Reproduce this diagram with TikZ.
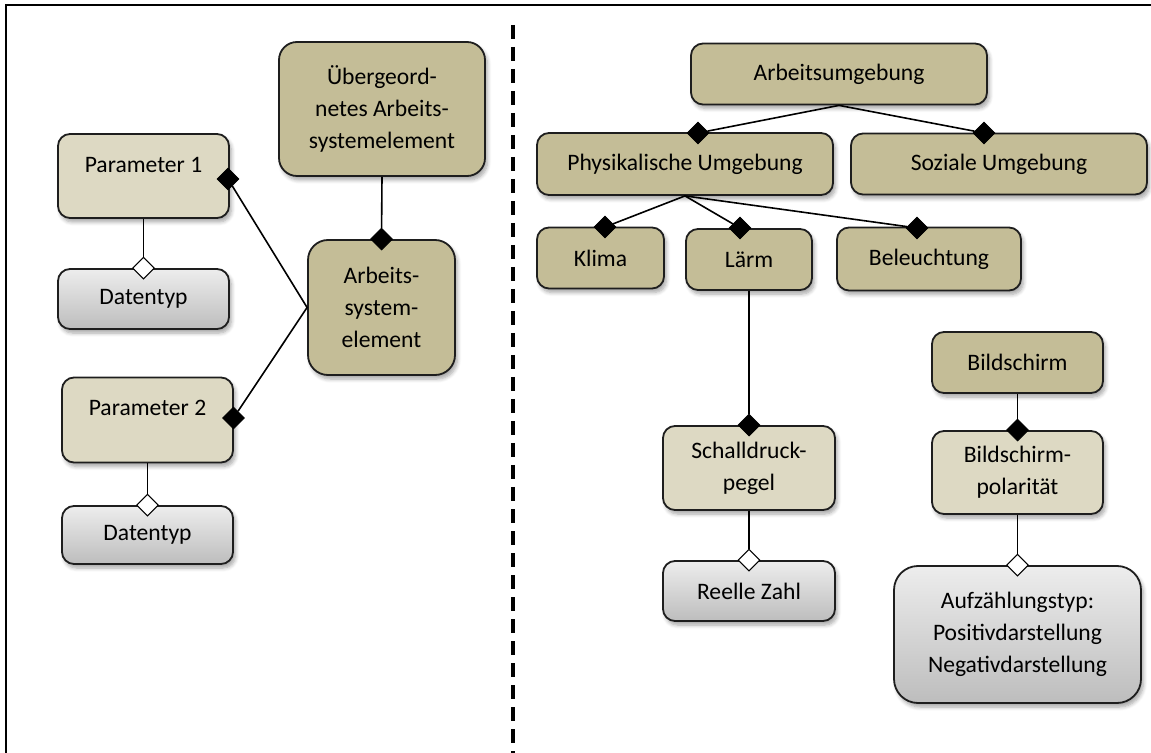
\documentclass[tikz,border=0pt]{standalone}
\usepackage{fontspec}
\setmainfont{Carlito}
\usetikzlibrary{shapes.geometric,shadows.blur}
\definecolor{tandark}{HTML}{C4BD97}
\definecolor{tanlight}{HTML}{DDD9C3}
\definecolor{edgecol}{HTML}{1E1E1E}
\definecolor{greytop}{HTML}{EDEDED}
\definecolor{greybot}{HTML}{BDBDBD}
\tikzset{
  box/.style={draw=edgecol, line width=0.9pt, rounded corners=6pt, inner sep=0pt,
    align=center, font=\fontsize{11.8}{16}\selectfont,
    blur shadow={shadow xshift=1.2pt, shadow yshift=-2pt, shadow blur steps=6, shadow opacity=35}},
  darkbox/.style={box, fill=tandark},
  lightbox/.style={box, fill=tanlight},
  typebox/.style={box, top color=greytop, bottom color=greybot},
  lbl/.style={inner sep=0pt, font=\fontsize{11.8}{16}\selectfont},
  link/.style={draw=black, line width=0.8pt},
  fdia/.style={diamond, fill=black, draw=black, line width=0.4pt, inner sep=0pt,
    minimum width=11pt, minimum height=11pt},
  odia/.style={diamond, fill=white, draw=black, line width=0.5pt, inner sep=0pt,
    minimum width=11pt, minimum height=11pt},
}
\begin{document}
\begin{tikzpicture}[x=0.5pt, y=-0.5pt]
\useasboundingbox (0,0) rectangle (1151,753);

% frame and separator
\draw[line width=1pt] (5.5,753) -- (5.5,5.5) -- (1151,5.5);
\draw[line width=2pt, dash pattern=on 7pt off 4pt] (513,25) -- (513,753);

% ---- left part: generic scheme ----
\node[darkbox, rounded corners=9pt, minimum width=103pt, minimum height=67pt] (ueb) at (382,109)
  {Übergeord-\\netes Arbeits-\\systemelement};
\node[darkbox, rounded corners=10pt, minimum width=73.5pt, minimum height=67.5pt] (ase) at (381.5,307.5)
  {Arbeits-\\system-\\element};
\node[lightbox, minimum width=85.5pt, minimum height=42pt] (p1) at (143.5,176) {};
\node[lbl] (p1t) at (143.5,165) {Parameter 1};
\node[typebox, minimum width=85.5pt, minimum height=30pt] (dt1) at (143.5,299) {Datentyp};
\node[lightbox, minimum width=85.5pt, minimum height=42.5pt] (p2) at (147.5,420) {};
\node[lbl] (p2t) at (147.5,408) {Parameter 2};
\node[typebox, minimum width=85.5pt, minimum height=29pt] (dt2) at (147.5,535) {Datentyp};

% ---- right part: example ----
\node[darkbox, minimum width=148pt, minimum height=30.5pt] (au) at (839,74) {Arbeitsumgebung};
\node[darkbox, minimum width=148pt, minimum height=31pt] (pu) at (685,164) {Physikalische Umgebung};
\node[darkbox, minimum width=148pt, minimum height=30.5pt] (su) at (999,164) {Soziale Umgebung};
\node[darkbox, minimum width=63.5pt, minimum height=30.5pt] (kl) at (600.5,258) {Klima};
\node[darkbox, minimum width=63pt, minimum height=30.5pt] (lm) at (749,259.5) {Lärm};
\node[darkbox, minimum width=92pt, minimum height=31.5pt] (bl) at (929,259) {Beleuchtung};
\node[lightbox, minimum width=86pt, minimum height=42pt] (sd) at (749,468) {Schalldruck-\\pegel};
\node[typebox, minimum width=86pt, minimum height=30pt] (rz) at (749,591) {Reelle Zahl};
\node[darkbox, minimum width=85.5pt, minimum height=30.5pt] (bs) at (1017.5,362.5) {Bildschirm};
\node[lightbox, minimum width=85.5pt, minimum height=41.5pt] (bp) at (1017.5,472.5) {Bildschirm-\\polarität};
\node[typebox, rounded corners=12pt, minimum width=123.5pt, minimum height=68.5pt] (az) at (1017.5,634.5)
  {Aufzählungstyp:\\Positivdarstellung\\Negativdarstellung};

% ---- composition markers ----
\node[fdia] (dase) at (ase.north) {};
\node[fdia] (dp1) at (228,179) {};
\node[fdia] (dp2) at (233.5,418) {};
\node[odia] (odt1) at (dt1.north) {};
\node[odia] (odt2) at (dt2.north) {};
\node[fdia] (dpu) at (698,133) {};
\node[fdia] (dsu) at (984,133) {};
\node[fdia] (dkl) at (605,227) {};
\node[fdia] (dlm) at (740,228) {};
\node[fdia] (dbl) at (917,228) {};
\node[fdia] (dsd) at (sd.north) {};
\node[odia] (orz) at (rz.north) {};
\node[fdia] (dbp) at (bp.north) {};
\node[odia] (oaz) at (az.north) {};

% ---- connectors ----
\draw[link] (ueb.south) -- (dase);
\draw[link] (dp1) -- (ase.west) -- (dp2);
\draw[link] (p1.south) -- (odt1);
\draw[link] (p2.south) -- (odt2);
\draw[link] (au.south) -- (dpu);
\draw[link] (au.south) -- (dsu);
\draw[link] (pu.south) -- (dkl);
\draw[link] (pu.south) -- (dlm);
\draw[link] (pu.south) -- (dbl);
\draw[link] (lm.south) -- (dsd);
\draw[link] (sd.south) -- (orz);
\draw[link] (bs.south) -- (dbp);
\draw[link] (bp.south) -- (oaz);
\end{tikzpicture}
\end{document}
